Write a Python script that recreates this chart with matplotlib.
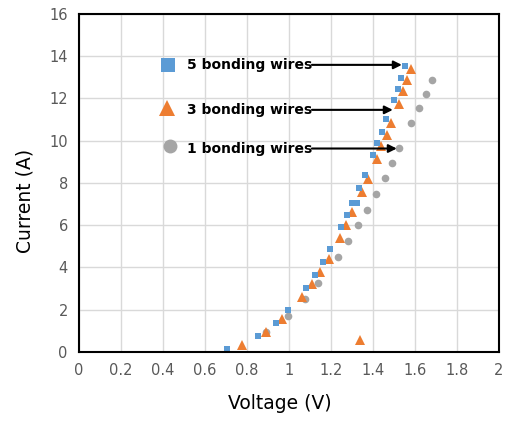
import matplotlib
matplotlib.use("Agg")
from matplotlib import pyplot as plt
import numpy as np

# 5 bonding wires
v5 = [0.705, 0.851, 0.937, 0.998, 1.084, 1.124, 1.164, 1.194, 1.249, 1.278, 1.303, 1.325,
      1.335, 1.362, 1.400, 1.422, 1.444, 1.465, 1.500, 1.518, 1.535, 1.554]
i5 = [0.14, 0.76, 1.37, 1.97, 3.03, 3.66, 4.26, 4.88, 5.92, 6.47, 7.07, 7.07,
      7.78, 8.39, 9.34, 9.91, 10.43, 11.01, 11.93, 12.47, 12.99, 13.55]

# 3 bonding wires
v3 = [0.779, 1.338, 0.890, 0.968, 1.064, 1.110, 1.148, 1.189, 1.244, 1.273, 1.303, 1.348,
      1.376, 1.418, 1.440, 1.467, 1.488, 1.524, 1.546, 1.563, 1.584]
i3 = [0.32, 0.58, 0.95, 1.56, 2.59, 3.20, 3.79, 4.42, 5.41, 5.99, 6.63, 7.57,
      8.21, 9.15, 9.74, 10.29, 10.84, 11.75, 12.37, 12.86, 13.40]

# 1 bonding wire
v1 = [0.890, 0.995, 1.076, 1.138, 1.232, 1.284, 1.330, 1.371, 1.413, 1.456, 1.492, 1.524,
      1.584, 1.619, 1.651, 1.681]
i1 = [0.95, 1.70, 2.49, 3.27, 4.51, 5.27, 5.99, 6.74, 7.50, 8.24, 8.96, 9.66,
      10.84, 11.55, 12.23, 12.89]

labels = ["5 bonding wires", "3 bonding wires", "1 bonding wires"]
colors = ["#5B9BD5", "#ED7D31", "#A5A5A5"]
markers = ["s", "^", "o"]

fig = plt.figure(figsize=(5.09, 4.23), dpi=100)
ax = fig.add_axes([0.155, 0.168, 0.825, 0.799])

ax.grid(True, color="#D9D9D9", linewidth=1.0)
ax.set_axisbelow(True)

ax.plot(v1, i1, linestyle="none", marker="o", color=colors[2], markersize=5.5, markeredgewidth=0)
ax.plot(v3, i3, linestyle="none", marker="^", color=colors[1], markersize=6.5, markeredgewidth=0)
ax.plot(v5, i5, linestyle="none", marker="s", color=colors[0], markersize=4.8, markeredgewidth=0)

ax.set_xlim(0, 2)
ax.set_ylim(0, 16)
ax.set_xticks(np.arange(0, 2.01, 0.2))
ax.set_xticklabels(["0", "0.2", "0.4", "0.6", "0.8", "1", "1.2", "1.4", "1.6", "1.8", "2"])
ax.set_yticks(np.arange(0, 17, 2))
ax.tick_params(length=0, labelsize=10.5, labelcolor="#595959", pad=8)
for s in ax.spines.values():
    s.set_color("black")
    s.set_linewidth(1.5)

ax.set_xlabel("Voltage (V)", fontsize=13.5)
ax.set_ylabel("Current (A)", fontsize=13.5)
ax.xaxis.set_label_coords(0.479, -0.125)
ax.yaxis.label.set_va("center")
ax.yaxis.set_label_coords(-0.129, 0.447)

# annotations: legend marker, label, arrow
mark_pos = [(0.424, 13.59), (0.419, 11.55), (0.433, 9.75)]
text_y = [13.59, 11.46, 9.63]
arrow_end = [1.538, 1.495, 1.514]
mark_size = [10, 11, 10]
for k in range(3):
    ax.plot(mark_pos[k][0], mark_pos[k][1], marker=markers[k], color=colors[k],
            markersize=mark_size[k], markeredgewidth=0, clip_on=False)
    ax.text(0.514, text_y[k], labels[k], fontsize=10, fontweight="bold", va="center", ha="left")
    ax.annotate("", xy=(arrow_end[k], text_y[k]), xytext=(1.11, text_y[k]),
                arrowprops=dict(arrowstyle="-|>", color="black", lw=1.5, mutation_scale=12,
                                shrinkA=0, shrinkB=0))

fig.savefig("out.png", dpi=100)
